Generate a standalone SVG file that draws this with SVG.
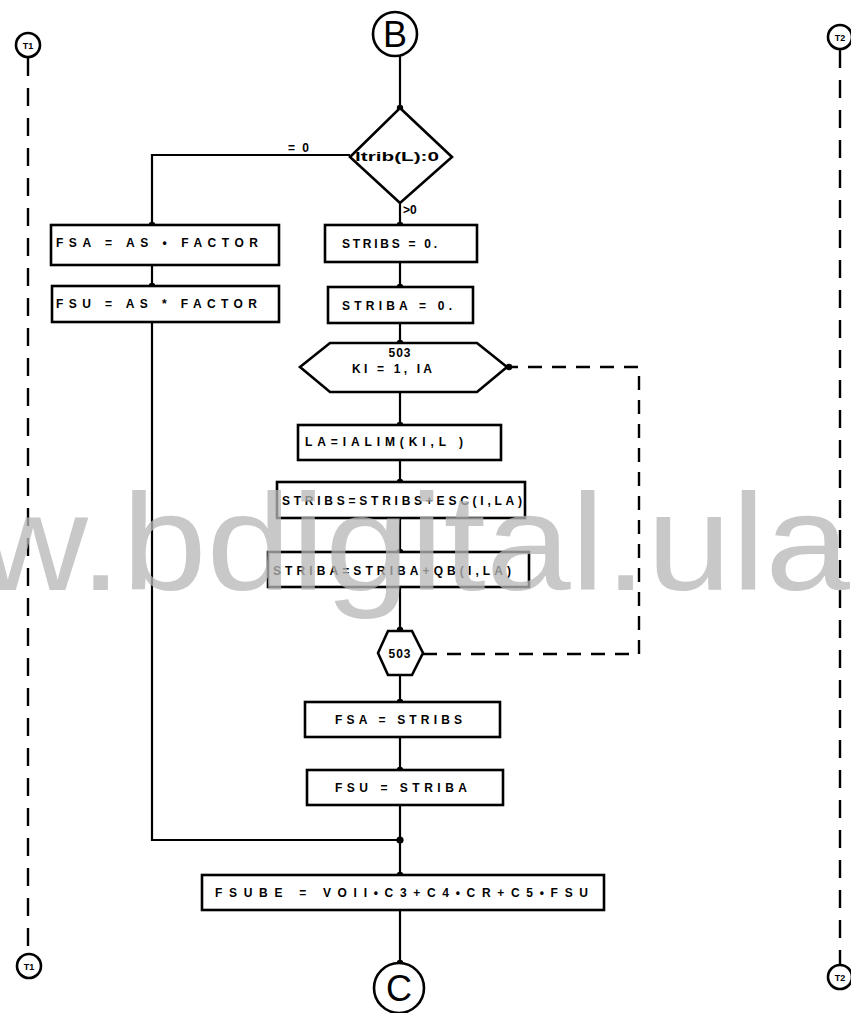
<svg xmlns="http://www.w3.org/2000/svg" width="851" height="1013" viewBox="0 0 851 1013">
  <style>
    .shape { fill: #fff; stroke: #000; stroke-width: 2.6; }
    .line { fill: none; stroke: #000; stroke-width: 2.2; }
    .dash { fill: none; stroke: #000; stroke-width: 2.4; stroke-dasharray: 14 10; }
    .side { fill: none; stroke: #000; stroke-width: 2.4; stroke-dasharray: 18 12; }
    .dot { fill: #000; }
    .t { font-family: "Liberation Sans", Arial, sans-serif; font-weight: bold; font-size: 12px; fill: #000; }
    .c { text-anchor: middle; }
    .big { font-family: "Liberation Sans", Arial, sans-serif; font-size: 36px; fill: #000; text-anchor: middle; }
    .sm { font-family: "Liberation Sans", Arial, sans-serif; font-weight: bold; font-size: 9px; fill: #000; text-anchor: middle; }
    .wm { font-family: "Liberation Sans", Arial, sans-serif; font-size: 137px; fill: #b7b7b7; opacity: 0.76; }
  </style>
  <rect width="851" height="1013" fill="#fff"/>

  <!-- connectors -->
  <g id="connectors">
    <path class="line" d="M400 56 V108"/>
    <path class="line" d="M350 155 H152 V225"/>
    <path class="line" d="M152 265 V286"/>
    <path class="line" d="M152 322 V840 H400"/>
    <path class="line" d="M400 203 V225"/>
    <path class="line" d="M400 262 V287"/>
    <path class="line" d="M400 323 V343"/>
    <path class="line" d="M400 392 V425"/>
    <path class="line" d="M400 460 V482"/>
    <path class="line" d="M400 518 V552"/>
    <path class="line" d="M400 587 V630"/>
    <path class="line" d="M400 675 V702"/>
    <path class="line" d="M400 737 V770"/>
    <path class="line" d="M400 805 V875"/>
    <path class="line" d="M400 910 V963"/>
    <path class="dash" d="M423 654 H639 V367 H510"/>
    <circle class="dot" cx="400" cy="108" r="3.2"/>
    <circle class="dot" cx="152" cy="225" r="3.2"/>
    <circle class="dot" cx="152" cy="286" r="3.2"/>
    <circle class="dot" cx="400" cy="225" r="3.2"/>
    <circle class="dot" cx="400" cy="287" r="3.2"/>
    <circle class="dot" cx="400" cy="343" r="3.2"/>
    <circle class="dot" cx="400" cy="425" r="3.2"/>
    <circle class="dot" cx="400" cy="482" r="3.2"/>
    <circle class="dot" cx="400" cy="552" r="3.2"/>
    <circle class="dot" cx="400" cy="630" r="3.2"/>
    <circle class="dot" cx="400" cy="702" r="3.2"/>
    <circle class="dot" cx="400" cy="770" r="3.2"/>
    <circle class="dot" cx="400" cy="840" r="3.6"/>
    <circle class="dot" cx="400" cy="875" r="3.2"/>
    <circle class="dot" cx="400" cy="963" r="3.2"/>
    <circle class="dot" cx="509" cy="367" r="3.2"/>
    <text class="t" x="288" y="152" letter-spacing="2">= 0</text>
    <text class="t" x="403" y="214">&gt;0</text>
  </g>

  <!-- start connector B -->
  <g id="node-B">
    <circle class="shape" cx="395" cy="34" r="22"/>
    <text class="big" x="395" y="47">B</text>
  </g>

  <!-- decision -->
  <g id="node-decision">
    <polygon class="shape" points="400,108 452,157 400,203 350,157"/>
    <text class="t" x="355" y="161" font-size="10" textLength="84" lengthAdjust="spacingAndGlyphs">ltrib(L):0</text>
  </g>

  <!-- left branch -->
  <g id="node-fsa-factor">
    <rect class="shape" x="51" y="225" width="228" height="40"/>
    <text class="t" x="56" y="247" textLength="202" lengthAdjust="spacing">FSA = AS  • FACTOR</text>
  </g>
  <g id="node-fsu-factor">
    <rect class="shape" x="52" y="286" width="227" height="36"/>
    <text class="t" x="56" y="308" textLength="201" lengthAdjust="spacing">FSU = AS  * FACTOR</text>
  </g>

  <!-- right branch -->
  <g id="node-stribs-zero">
    <rect class="shape" x="325" y="225" width="152" height="37"/>
    <text class="t" x="342" y="248" textLength="95" lengthAdjust="spacing">STRIBS = 0.</text>
  </g>
  <g id="node-striba-zero">
    <rect class="shape" x="328" y="287" width="145" height="36"/>
    <text class="t" x="342" y="310" textLength="110" lengthAdjust="spacing">STRIBA = 0.</text>
  </g>
  <g id="node-loop">
    <polygon class="shape" points="300,367 330,343 477,343 507,367 477,392 330,392"/>
    <text class="t c" x="400" y="357" letter-spacing="1">503</text>
    <text class="t" x="352" y="373" textLength="80" lengthAdjust="spacing">KI = 1, IA</text>
  </g>
  <g id="node-la">
    <rect class="shape" x="298" y="425" width="203" height="35"/>
    <text class="t" x="305" y="446" textLength="158" lengthAdjust="spacing">LA=IALIM(KI,L )</text>
  </g>
  <g id="node-stribs-sum">
    <rect class="shape" x="277" y="482" width="248" height="36"/>
    <text class="t" x="282" y="505" textLength="240" lengthAdjust="spacing">STRIBS=STRIBS+ESC(I,LA)</text>
  </g>
  <g id="node-striba-sum">
    <rect class="shape" x="268" y="552" width="261" height="35"/>
    <text class="t" x="273" y="575" textLength="238" lengthAdjust="spacing">STRIBA=STRIBA+QB(I,LA)</text>
  </g>
  <g id="node-loop-end">
    <polygon class="shape" points="378,653 388,631 412,631 423,653 412,675 388,675"/>
    <text class="t c" x="400" y="658" letter-spacing="1">503</text>
  </g>
  <g id="node-fsa-stribs">
    <rect class="shape" x="305" y="702" width="195" height="35"/>
    <text class="t" x="335" y="724" textLength="127" lengthAdjust="spacing">FSA = STRIBS</text>
  </g>
  <g id="node-fsu-striba">
    <rect class="shape" x="307" y="770" width="196" height="35"/>
    <text class="t" x="335" y="792" textLength="132" lengthAdjust="spacing">FSU = STRIBA</text>
  </g>
  <g id="node-fsube">
    <rect class="shape" x="202" y="875" width="402" height="35"/>
    <text class="t" x="215" y="897" textLength="373" lengthAdjust="spacing">FSUBE = VOII•C3+C4•CR+C5•FSU</text>
  </g>
  <g id="node-C">
    <circle class="shape" cx="399" cy="988" r="25"/>
    <text class="big" x="399" y="1001">C</text>
  </g>

  <!-- off-page side links -->
  <g id="side-T1">
    <path class="side" d="M28 58 V952"/>
    <circle class="shape" cx="28" cy="45" r="12"/>
    <text class="sm" x="28" y="49">T1</text>
    <circle class="shape" cx="29" cy="966" r="12"/>
    <text class="sm" x="29" y="970">T1</text>
  </g>
  <g id="side-T2">
    <path class="side" d="M840 50 V964"/>
    <circle class="shape" cx="840" cy="37" r="12"/>
    <text class="sm" x="840" y="41">T2</text>
    <circle class="shape" cx="840" cy="977" r="12"/>
    <text class="sm" x="840" y="981">T2</text>
  </g>

  <!-- watermark -->
  <text class="wm" x="-22" y="590" textLength="872" lengthAdjust="spacingAndGlyphs">w.bdigital.ula</text>
</svg>
